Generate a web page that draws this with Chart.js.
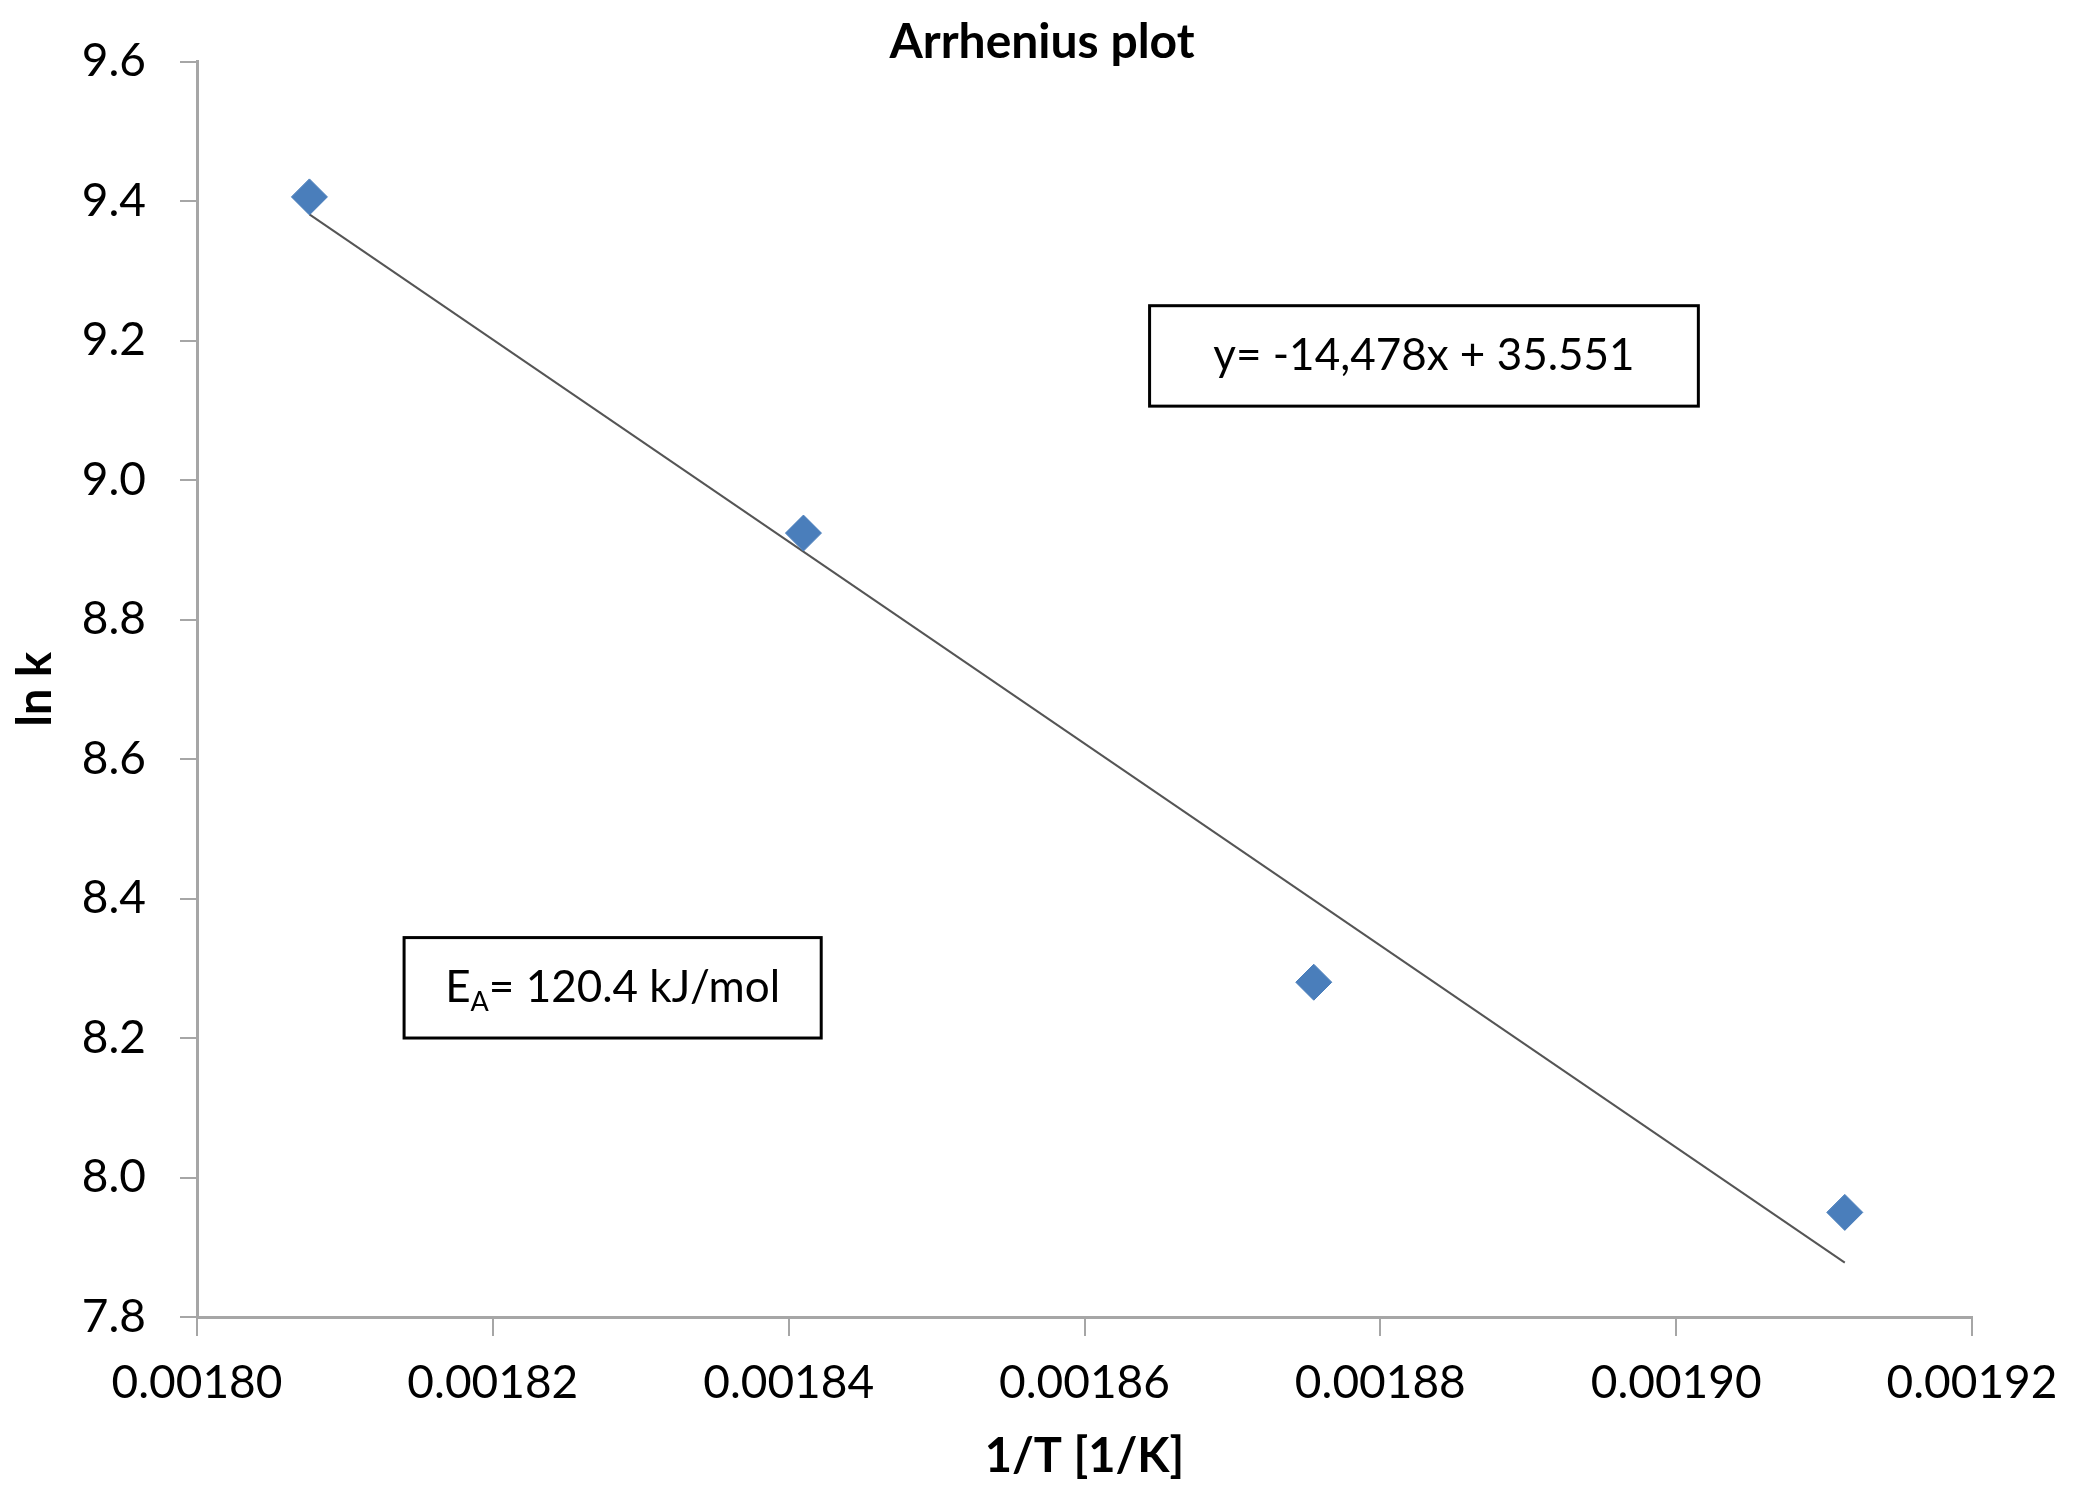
<!DOCTYPE html>
<html>
<head>
<meta charset="utf-8">
<script src="https://cdn.jsdelivr.net/npm/chart.js@4.4.1/dist/chart.umd.min.js"></script>
<style>
  html, body { margin: 0; padding: 0; background: #ffffff; }
  #wrap { width: 2084px; height: 1496px; }
</style>
</head>
<body>
<div id="wrap"><canvas id="graphe" width="2084" height="1496"></canvas></div>
<script>
// Données
const invT = [0.0018076, 0.0018410, 0.0018755, 0.0019114];
const lnK = [9.406, 8.924, 8.280, 7.950];

// Droite de tendance (extrémités)
const trendX = [0.0018076, 0.0019114];
const trendY = [9.381, 7.878];

const xTicks = [0.00180, 0.00182, 0.00184, 0.00186, 0.00188, 0.00190, 0.00192];
const yTicks = [7.8, 8.0, 8.2, 8.4, 8.6, 8.8, 9.0, 9.2, 9.4, 9.6];

const equationText = 'y= -14,478x + 35.551';
const energyText = ['E', 'A', '= 120.4 kJ/mol'];

// Cadres de texte en unités du graphique
const equationBox = { x1: 0.0018644, x2: 0.0019015, y1: 9.250, y2: 9.106 };
const energyBox = { x1: 0.0018140, x2: 0.0018422, y1: 8.344, y2: 8.200 };

const police = 'Lato, "Noto Sans", sans-serif';
const axisGray = '#a6a6a6';

const textBoxes = {
    id: 'textBoxes',
    afterDraw(chart) {
        const ctx = chart.ctx;
        const xs = chart.scales.x;
        const ys = chart.scales.y;

        function cadre(b) {
            const l = xs.getPixelForValue(b.x1), r = xs.getPixelForValue(b.x2);
            const t = ys.getPixelForValue(b.y1), bo = ys.getPixelForValue(b.y2);
            ctx.save();
            ctx.fillStyle = '#ffffff';
            ctx.fillRect(l, t, r - l, bo - t);
            ctx.strokeStyle = '#000000';
            ctx.lineWidth = 3;
            ctx.strokeRect(l, t, r - l, bo - t);
            ctx.restore();
            return { cx: (l + r) / 2, cy: (t + bo) / 2 };
        }

        let c = cadre(equationBox);
        ctx.save();
        ctx.fillStyle = '#000000';
        ctx.font = '44px ' + police;
        ctx.textAlign = 'center';
        ctx.textBaseline = 'middle';
        ctx.fillText(equationText, c.cx, c.cy);
        ctx.restore();

        c = cadre(energyBox);
        ctx.save();
        ctx.fillStyle = '#000000';
        ctx.textBaseline = 'middle';
        ctx.font = '44px ' + police;
        const wE = ctx.measureText(energyText[0]).width;
        const wRest = ctx.measureText(energyText[2]).width;
        ctx.font = '27px ' + police;
        const wA = ctx.measureText(energyText[1]).width;
        let x = c.cx - (wE + wA + wRest) / 2;
        ctx.font = '44px ' + police;
        ctx.fillText(energyText[0], x, c.cy);
        x += wE;
        ctx.font = '27px ' + police;
        ctx.fillText(energyText[1], x, c.cy + 14);
        x += wA;
        ctx.font = '44px ' + police;
        ctx.fillText(energyText[2], x, c.cy);
        ctx.restore();
    }
};

const ctx = document.getElementById('graphe').getContext('2d');
const chartInstance = new Chart(ctx, {
    type: 'scatter',
    data: {
        datasets: [{
            label: 'ln k',
            data: invT.map((v, i) => ({ x: v, y: lnK[i] })),
            pointStyle: 'rectRot',
            pointRadius: 18,
            pointHoverRadius: 18,
            backgroundColor: '#4a7ebb',
            borderColor: '#4a7ebb',
            borderWidth: 1,
            order: 1
        }, {
            label: 'tendance',
            type: 'line',
            data: trendX.map((v, i) => ({ x: v, y: trendY[i] })),
            showLine: true,
            borderColor: '#555555',
            borderWidth: 2,
            pointRadius: 0,
            fill: false,
            order: 2
        }]
    },
    options: {
        responsive: false,
        animation: false,
        layout: { padding: 0 },
        plugins: {
            legend: { display: false },
            tooltip: { enabled: false },
            title: {
                display: true,
                text: 'Arrhenius plot',
                color: '#000000',
                font: { family: police, size: 48, weight: 'bold', lineHeight: 0.8 },
                padding: { top: 15, bottom: 0 }
            }
        },
        scales: {
            x: {
                type: 'linear',
                min: 0.00180,
                max: 0.00192,
                afterBuildTicks: (s) => { s.ticks = xTicks.map(v => ({ value: v })); },
                afterFit: (s) => { s.height = 179; },
                border: { color: axisGray, width: 3 },
                grid: { display: true, drawOnChartArea: false, tickLength: 19, color: axisGray, lineWidth: 2 },
                ticks: {
                    color: '#000000',
                    font: { family: police, size: 46 },
                    padding: 20,
                    maxRotation: 0,
                    callback: (v) => v.toFixed(5)
                },
                title: {
                    display: true,
                    text: '1/T [1/K]',
                    color: '#000000',
                    font: { family: police, size: 47, weight: 'bold', lineHeight: 1.2 },
                    padding: { top: 0, bottom: 11 }
                }
            },
            y: {
                type: 'linear',
                min: 7.8,
                max: 9.6,
                afterBuildTicks: (s) => { s.ticks = yTicks.map(v => ({ value: v })); },
                afterFit: (s) => { s.width = 197; },
                border: { color: axisGray, width: 3 },
                grid: { display: true, drawOnChartArea: false, tickLength: 17, color: axisGray, lineWidth: 2 },
                ticks: {
                    color: '#000000',
                    font: { family: police, size: 46 },
                    padding: 34,
                    callback: (v) => v.toFixed(1)
                },
                title: {
                    display: true,
                    text: 'ln k',
                    color: '#000000',
                    font: { family: police, size: 47, weight: 'bold', lineHeight: 1.2 },
                    padding: { top: 8, bottom: 0 }
                }
            },
            // marge droite (axe invisible)
            marge: {
                type: 'linear',
                position: 'right',
                display: true,
                afterFit: (s) => { s.width = 112; },
                border: { display: false },
                grid: { display: false },
                ticks: { display: false }
            }
        }
    },
    plugins: [textBoxes]
});
</script>
</body>
</html>
